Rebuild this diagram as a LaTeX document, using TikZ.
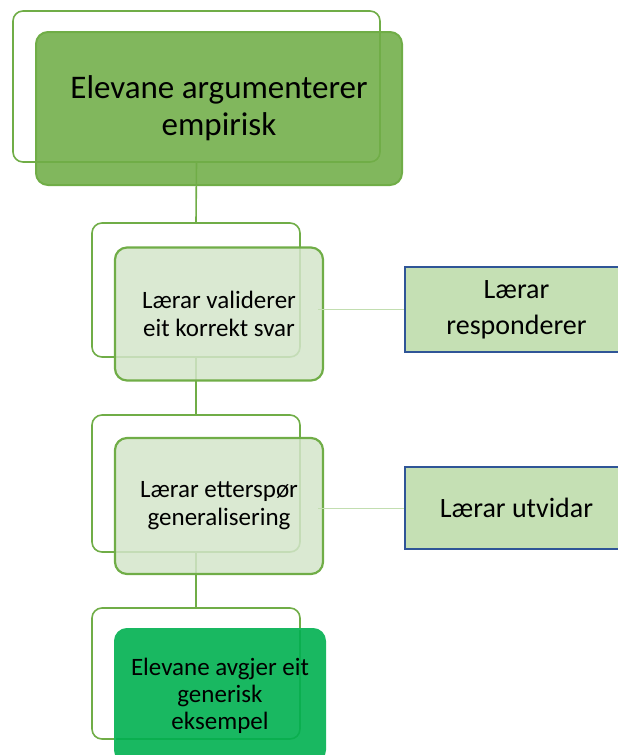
\documentclass[tikz,border=0pt]{standalone}
\usepackage{fontspec}
\setmainfont{Carlito}
\definecolor{grn}{HTML}{70AD47}
\definecolor{paleline}{HTML}{C2DEB0}
\definecolor{lightfill}{HTML}{D3E5CA}
\definecolor{brightgrn}{HTML}{00B050}
\definecolor{sidefill}{HTML}{C5E0B4}
\definecolor{sideborder}{HTML}{2F5597}
\begin{document}
\begin{tikzpicture}[x=1pt,y=-1pt,
  framebox/.style={draw=grn, line width=1.6pt, rounded corners=10pt, inner sep=0pt},
  mainbox/.style={draw=grn, line width=2pt, rounded corners=12pt, fill=grn, fill opacity=0.88, text opacity=1, align=center, inner sep=0pt},
  stepbox/.style={draw=grn, line width=2.2pt, rounded corners=12pt, fill=lightfill, fill opacity=0.85, text opacity=1, align=center, inner sep=0pt},
  endbox/.style={draw=brightgrn!90!white, line width=2pt, rounded corners=12pt, fill=brightgrn, fill opacity=0.9, text opacity=1, align=center, inner sep=0pt},
  sidebox/.style={draw=sideborder, line width=1.4pt, fill=sidefill, align=center, inner sep=0pt},
  vlink/.style={draw=grn, line width=1.6pt},
  hlink/.style={draw=paleline, line width=1pt}]
\useasboundingbox (0,0) rectangle (618,755);

% background frames
\node[framebox, minimum width=367, minimum height=151] (o1) at (196.5,86.5) {};
\node[framebox, minimum width=208, minimum height=134] (o2) at (196,290) {};
\node[framebox, minimum width=208, minimum height=137] (o3) at (196,483.5) {};
\node[framebox, minimum width=208, minimum height=131] (o4) at (196,673.5) {};

% vertical links between the frames
\draw[vlink] (o1.south) -- (o2.north);
\draw[vlink] (o2.south) -- (o3.north);
\draw[vlink] (o3.south) -- (o4.north);

% side boxes
\node[sidebox, minimum width=223, minimum height=85,
  font=\fontsize{28}{36}\selectfont] (r2) at (516.5,309.5) {Lærar\\responderer};
\node[sidebox, minimum width=223, minimum height=82,
  font=\fontsize{28}{36}\selectfont] (r3) at (516.5,508) {Lærar utvidar};

% main boxes
\node[mainbox, minimum width=366, minimum height=153,
  font=\fontsize{33}{37}\selectfont] (f1) at (219,108.5) {Elevane argumenterer\\empirisk};
\node[stepbox, minimum width=208, minimum height=133,
  font=\fontsize{25}{28}\selectfont] (f2) at (219,314) {Lærar validerer\\eit korrekt svar};
\node[stepbox, minimum width=208, minimum height=136,
  font=\fontsize{25}{28}\selectfont] (f3) at (219,506) {Lærar etterspør\\generalisering};
\node[endbox, minimum width=210, minimum height=133,
  font=\fontsize{25}{27}\selectfont] (f4) at (220,695.5) {Elevane avgjer eit\\generisk\\eksempel};

% horizontal links to the side boxes
\draw[hlink] (f2.east |- r2.west) ++(-6,0) -- (r2.west);
\draw[hlink] (f3.east |- r3.west) ++(-6,0) -- (r3.west);
\end{tikzpicture}
\end{document}
